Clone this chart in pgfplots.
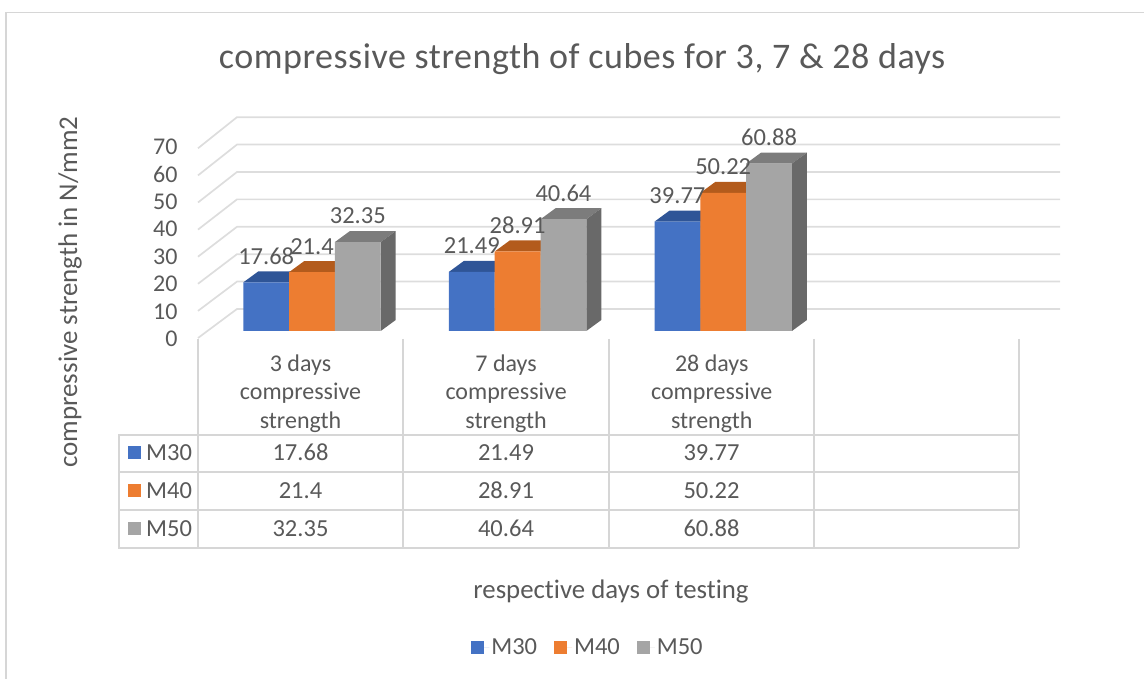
\documentclass[border=0pt]{standalone}
\usepackage{pgfplots}
\usepackage{pgfplotstable}
\usepackage{fontspec}
\setmainfont{Carlito}[Ligatures=NoCommon]
\newfontfamily\titlefont{Carlito}[Ligatures=NoCommon,LetterSpace=1.5]
\pgfplotsset{compat=1.18}
\definecolor{txt}{HTML}{595959}
\definecolor{gridc}{HTML}{DDDDDD}
\definecolor{tblc}{HTML}{D6D6D6}
\definecolor{cA}{HTML}{4472C4}\definecolor{cAt}{HTML}{2F5597}\definecolor{cAs}{HTML}{2B4A82}
\definecolor{cB}{HTML}{ED7D31}\definecolor{cBt}{HTML}{B35B1C}\definecolor{cBs}{HTML}{A3521A}
\definecolor{cC}{HTML}{A5A5A5}\definecolor{cCt}{HTML}{7C7C7C}\definecolor{cCs}{HTML}{696969}
\pgfplotstableread{
x M30 M40 M50
0 17.68 21.4 32.35
1 21.49 28.91 40.64
2 39.77 50.22 60.88
}\datatbl
\newcommand\bw{0.2228}
\newcommand\faces[5]{% row, series, index, top colour, side colour
  \pgfplotstablegetelem{#1}{#2}\of\datatbl
  \pgfmathsetmacro\vv{\pgfplotsretval}
  \pgfmathsetmacro\xl{#1+(#3-1.5)*\bw}
  \pgfmathsetmacro\xr{\xl+\bw}
  \pgfmathsetmacro\xlb{\xl+0.073}
  \pgfmathsetmacro\xrb{\xr+0.073}
  \pgfmathsetmacro\vb{\vv+4}
  \addplot[fill=#4,draw=none,forget plot] coordinates {(\xl,\vv) (\xr,\vv) (\xrb,\vb) (\xlb,\vb)} -- cycle;
  \addplot[fill=#5,draw=none,forget plot] coordinates {(\xr,0) (\xrb,4) (\xrb,\vb) (\xr,\vv)} -- cycle;
}
\newcommand\gridl[1]{%
  \pgfmathsetmacro\vf{(-7+2.71*#1)/2.75}
  \pgfmathsetmacro\vk{(22+2.74*#1)/2.75}
  \addplot[gridc,line width=1.7bp,forget plot] coordinates {(-0.5545,\vf) (-0.365,\vk) (3.638,\vk)};
}
\newcommand\fsz{\fontsize{24.5bp}{28bp}\selectfont}
\begin{document}
\begin{tikzpicture}
\path[use as bounding box] (0,0) rectangle (1144bp,679bp);
\begin{scope}[shift={(0,679bp)},x=1bp,y=-1bp,
  tt/.style={text=txt,font=\fsz,inner sep=0pt,anchor=center}]
\draw[tblc,line width=1.6bp] (6,679) -- (6,12.5) -- (1144,12.5);
% data table
\begin{scope}[tblc,line width=1.4bp]
\draw (119,435) rectangle (198,548);
\foreach \y in {435,472,510,548} \draw (119,\y) -- (1019,\y);
\foreach \x in {198,403,609,814,1019} \draw (\x,339) -- (\x,548);
\end{scope}
\foreach \y/\a/\b/\c/\n/\col in {453/17.68/21.49/39.77/M30/cA,491/21.4/28.91/50.22/M40/cB,529/32.35/40.64/60.88/M50/cC}{
  \fill[\col] (128,\y-6.5) rectangle (141,\y+6.5);
  \node[tt,anchor=base west] at (146,\y+8) {\n};
  \node[tt,anchor=base] at (300.5,\y+8) {\a};
  \node[tt,anchor=base] at (506,\y+8) {\b};
  \node[tt,anchor=base] at (711.5,\y+8) {\c};
}
\end{scope}
\begin{axis}[
  at={(198bp,348bp)},anchor=south west,scale only axis,
  width=862bp,height=215bp,
  xmin=-0.5545,xmax=3.638,ymin=0,ymax=78.18,
  clip=false,
  axis line style={draw=none},
  tick style={draw=none},
  /pgf/number format/assume math mode=true,
  ytick={0,10,...,70},
  yticklabel style={text=txt,font=\fontsize{24bp}{28bp}\selectfont,xshift=-17bp,yshift=-8bp},
  xtick={0,1,2},
  xticklabels={3 days\\compressive\\strength,7 days\\compressive\\strength,28 days\\compressive\\strength},
  xticklabel style={text=txt,align=center,font=\fontsize{24bp}{28.5bp}\selectfont,anchor=north,xshift=-11.5bp,yshift=-20bp},
  title={compressive strength of cubes for 3, 7 \& 28 days},
  title style={at={(axis description cs:0.4455,1.195)},anchor=base,text=txt,font=\titlefont\fontsize{36bp}{40bp}\selectfont},
  xlabel={respective days of testing},
  xlabel style={at={(axis description cs:0.4791,-1.246)},anchor=base,text=txt,font=\fontsize{26.8bp}{30bp}\selectfont},
  ylabel={compressive strength in N/mm2},
  ylabel style={at={(axis description cs:-0.1485,0.181)},anchor=center,text=txt,font=\fontsize{27bp}{30bp}\selectfont},
  legend columns=3,
  legend cell align=left,
  legend style={at={(axis description cs:0.4524,-1.47)},anchor=center,draw=none,fill=none,text=txt,font=\fsz,
    /tikz/every even column/.style={column sep=15bp}},
  legend image code/.code={\path[#1] (0bp,-6.5bp) rectangle (13bp,6.5bp);\path (0bp,0bp) -- (18bp,0bp);},
  nodes near coords style={anchor=center,yshift=26bp,text=txt,font=\fsz},
]
\pgfplotsinvokeforeach{0,10,...,70}{\gridl{#1}}
\pgfplotsinvokeforeach{0,1,2}{\faces{#1}{M30}{0}{cAt}{cAs}}
\addplot[ybar,bar width=45.8bp,bar shift=-45.8bp,fill=cA,draw=none] table[x=x,y=M30]{\datatbl};
\addlegendentry{M30}
\pgfplotsinvokeforeach{0,1,2}{\faces{#1}{M40}{1}{cBt}{cBs}}
\addplot[ybar,bar width=45.8bp,bar shift=0bp,fill=cB,draw=none] table[x=x,y=M40]{\datatbl};
\addlegendentry{M40}
\pgfplotsinvokeforeach{0,1,2}{\faces{#1}{M50}{2}{cCt}{cCs}}
\addplot[ybar,bar width=45.8bp,bar shift=45.8bp,fill=cC,draw=none] table[x=x,y=M50]{\datatbl};
\addlegendentry{M50}
% value labels, on top of all bars
\addplot[draw=none,mark=none,forget plot,nodes near coords] table[x expr=\thisrow{x}-\bw,y=M30]{\datatbl};
\addplot[draw=none,mark=none,forget plot,nodes near coords] table[x=x,y=M40]{\datatbl};
\addplot[draw=none,mark=none,forget plot,nodes near coords] table[x expr=\thisrow{x}+\bw,y=M50]{\datatbl};
\end{axis}
\end{tikzpicture}
\end{document}
